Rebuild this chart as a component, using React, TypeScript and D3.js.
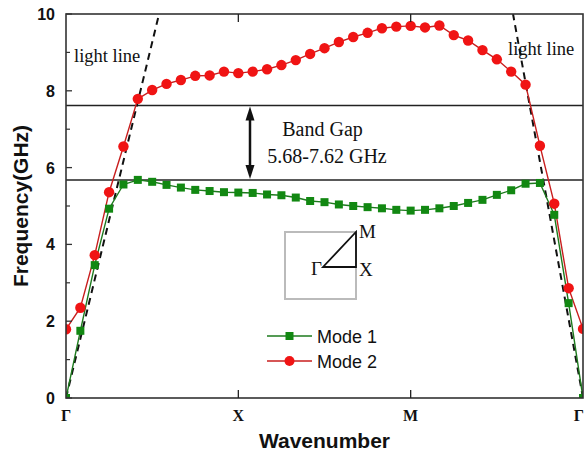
import React from "react";
import * as d3 from "d3";

// ---- data ----
const kLabels = ["Γ", "X", "M", "Γ"];
const pointsPerSegment = 12;
const mode1 = [
  0, 1.75, 3.46, 4.93, 5.56, 5.68, 5.63, 5.55, 5.48, 5.42, 5.39, 5.36, 5.35,
  5.34, 5.3, 5.28, 5.22, 5.13, 5.1, 5.04, 5.0, 4.97, 4.94, 4.9, 4.88,
  4.9, 4.94, 5.0, 5.08, 5.16, 5.29, 5.41, 5.58, 5.6, 4.77, 2.47, 0,
];
const mode2 = [
  1.79, 2.35, 3.72, 5.36, 6.55, 7.79, 8.02, 8.18, 8.28, 8.39, 8.4, 8.5, 8.46,
  8.5, 8.56, 8.67, 8.8, 8.96, 9.11, 9.27, 9.4, 9.51, 9.63, 9.67, 9.69,
  9.65, 9.7, 9.45, 9.31, 9.06, 8.82, 8.5, 8.16, 6.57, 5.06, 2.86, 1.8,
];
const lightLineLeft: [number, number][] = [[0, 0], [0.54, 10]];
const lightLineRight: [number, number][] = [[3, 0], [2.594, 10]];
const gapLow = 5.68;
const gapHigh = 7.62;
const yTicks = [0, 2, 4, 6, 8, 10];
const yMinor = [1, 3, 5, 7, 9];

const W = 584, H = 455;
const L = 66, R = 583, T = 14, B = 398;
const SERIF = "'Liberation Serif', 'Times New Roman', serif";
const SANS = "'Liberation Sans', Arial, sans-serif";
const RED = "#f01414";
const REDLINE = "#c81e1e";
const GREEN = "#128812";
const GREENLINE = "#1d7a1d";

export default function App() {
  const x = d3.scaleLinear().domain([0, 3]).range([L, R]);
  const y = d3.scaleLinear().domain([0, 10]).range([B, T]);
  const kOf = (i: number) => i / pointsPerSegment;
  const line = d3
    .line<number>()
    .x((_, i) => x(kOf(i)))
    .y((d) => y(d));
  const ll = d3
    .line<[number, number]>()
    .x((d) => x(d[0]))
    .y((d) => y(d[1]));
  const sq = 8;
  const arrowX = 250;
  return (
    <svg
      width={W}
      height={H}
      style={{ position: "absolute", left: 0, top: 0, background: "#fff" }}
    >
      <defs>
        <clipPath id="plot">
          <rect x={L} y={T} width={R - L} height={B - T} />
        </clipPath>
      </defs>
      <rect x={0} y={0} width={W} height={H} fill="#fff" />
      {[gapLow, gapHigh].map((g) => (
        <line key={g} x1={L} x2={R} y1={y(g)} y2={y(g)} stroke="#222" strokeWidth={1.5} />
      ))}
      <g clipPath="url(#plot)">
        <path d={ll(lightLineLeft) || ""} fill="none" stroke="#111" strokeWidth={2} strokeDasharray="7,5" />
        <path d={ll(lightLineRight) || ""} fill="none" stroke="#111" strokeWidth={2} strokeDasharray="7,5" />
        <path d={line(mode1) || ""} fill="none" stroke={GREENLINE} strokeWidth={1.4} />
        <path d={line(mode2) || ""} fill="none" stroke={REDLINE} strokeWidth={1.4} />
        {mode1.map((d, i) => (
          <rect key={"g" + i} x={x(kOf(i)) - sq / 2} y={y(d) - sq / 2} width={sq} height={sq} fill={GREEN} />
        ))}
        {mode2.map((d, i) => (
          <circle key={"r" + i} cx={x(kOf(i))} cy={y(d)} r={5.2} fill={RED} />
        ))}
      </g>
      <rect x={L} y={T} width={R - L} height={B - T} fill="none" stroke="#333" strokeWidth={1.6} />
      {yTicks.map((t) => (
        <g key={"yt" + t}>
          <line x1={L} x2={L + 6} y1={y(t)} y2={y(t)} stroke="#333" strokeWidth={1.3} />
          <text x={L - 11} y={y(t) + 6} textAnchor="end" fontFamily={SANS} fontWeight="bold" fontSize={16} fill="#111">
            {t}
          </text>
        </g>
      ))}
      {yMinor.map((t) => (
        <line key={"ym" + t} x1={L} x2={L + 4} y1={y(t)} y2={y(t)} stroke="#333" strokeWidth={1.2} />
      ))}
      {[1, 2].map((k) => (
        <g key={"xt" + k}>
          <line x1={x(k)} x2={x(k)} y1={B} y2={B - 8} stroke="#222" strokeWidth={1.3} />
          <line x1={x(k)} x2={x(k)} y1={T} y2={T + 8} stroke="#222" strokeWidth={1.3} />
        </g>
      ))}
      {kLabels.map((lab, k) => (
        <text
          key={"xl" + k}
          x={k === kLabels.length - 1 ? W : x(k)}
          y={421}
          textAnchor={k === kLabels.length - 1 ? "end" : "middle"}
          fontFamily={SERIF}
          fontWeight="bold"
          fontSize={16}
          fill="#111"
        >
          {lab}
        </text>
      ))}
      <text x={(L + R) / 2} y={448} textAnchor="middle" fontFamily={SANS} fontWeight="bold" fontSize={21} fill="#111">
        Wavenumber
      </text>
      <text
        transform={`translate(28,${(T + B) / 2}) rotate(-90)`}
        textAnchor="middle"
        fontFamily={SANS}
        fontWeight="bold"
        fontSize={21}
        fill="#111"
      >
        Frequency(GHz)
      </text>
      <text x={74} y={62} fontFamily={SERIF} fontSize={18.5} fill="#111">light line</text>
      <text x={508} y={55} fontFamily={SERIF} fontSize={18.5} fill="#111">light line</text>
      <line x1={arrowX} x2={arrowX} y1={y(gapHigh) + 10} y2={y(gapLow) - 10} stroke="#111" strokeWidth={2.5} />
      <path
        d={`M${arrowX},${y(gapHigh) + 1} L${arrowX - 4.5},${y(gapHigh) + 15} L${arrowX + 4.5},${y(gapHigh) + 15} Z`}
        fill="#111"
      />
      <path
        d={`M${arrowX},${y(gapLow) - 1} L${arrowX - 4.5},${y(gapLow) - 15} L${arrowX + 4.5},${y(gapLow) - 15} Z`}
        fill="#111"
      />
      <text x={322.5} y={136} textAnchor="middle" fontFamily={SERIF} fontSize={20} fill="#111">Band Gap</text>
      <text x={327} y={163} textAnchor="middle" fontFamily={SERIF} fontSize={20} fill="#111">5.68-7.62 GHz</text>
      <rect x={285} y={232} width={71} height={67} fill="none" stroke="#bbb" strokeWidth={2} />
      <path d="M323,267 L356,267 L356,232 Z" fill="none" stroke="#111" strokeWidth={1.8} />
      <text x={322} y={275} textAnchor="end" fontFamily={SERIF} fontSize={19} fill="#111">Γ</text>
      <text x={359} y={276} fontFamily={SERIF} fontSize={19} fill="#111">X</text>
      <text x={359} y={238} fontFamily={SERIF} fontSize={19} fill="#111">M</text>
      <line x1={267} x2={312} y1={336} y2={336} stroke={GREENLINE} strokeWidth={1.6} />
      <rect x={289.5 - sq / 2} y={336 - sq / 2} width={sq} height={sq} fill={GREEN} />
      <text x={317} y={342.5} fontFamily={SANS} fontSize={18} fill="#111">Mode 1</text>
      <line x1={267} x2={312} y1={361} y2={361} stroke={REDLINE} strokeWidth={1.6} />
      <circle cx={289.5} cy={361} r={5} fill={RED} />
      <text x={317} y={367.5} fontFamily={SANS} fontSize={18} fill="#111">Mode 2</text>
    </svg>
  );
}
